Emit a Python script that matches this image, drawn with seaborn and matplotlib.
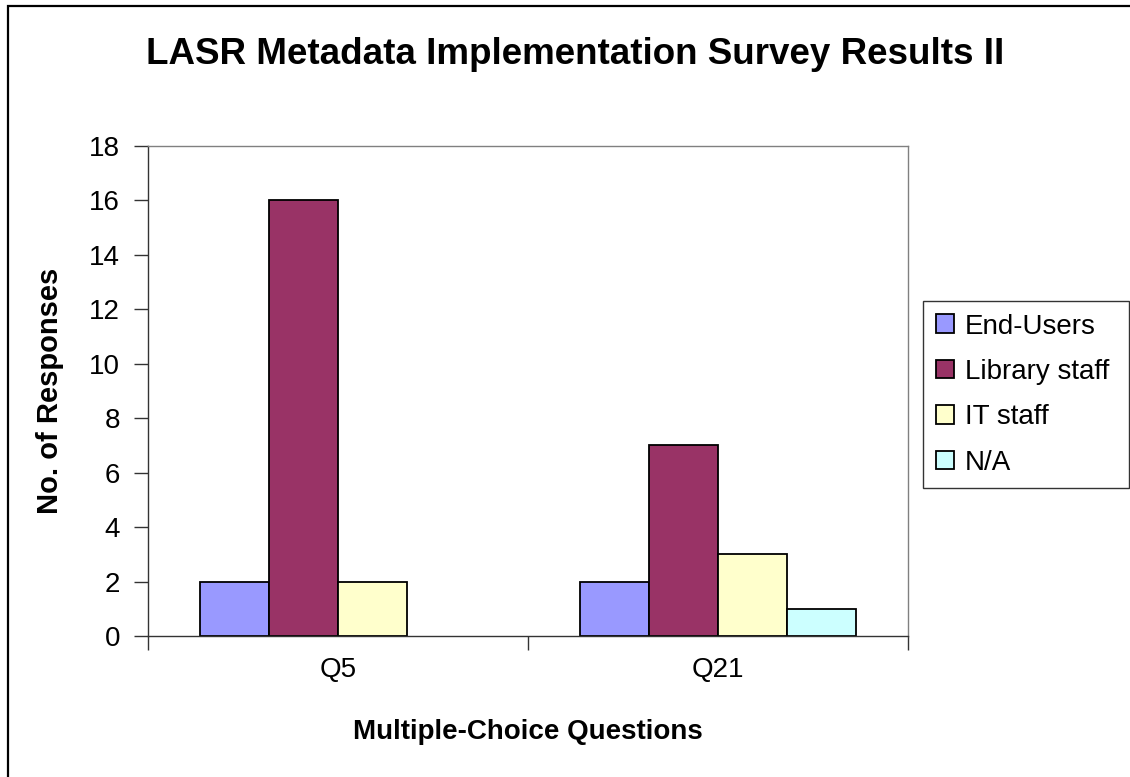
import pandas as pd
import matplotlib
matplotlib.use("Agg")
import matplotlib.pyplot as plt
from matplotlib.patches import Rectangle
import seaborn as sns

questions = ["Q5", "Q21"]
groups = ["End-Users", "Library staff", "IT staff", "N/A"]
end_users = [2, 2]
library_staff = [16, 7]
it_staff = [2, 3]
na = [0, 1]
colors = ["#9999FF", "#993366", "#FFFFCC", "#CCFFFF"]

df = pd.DataFrame({
    "Question": questions * 4,
    "Group": [g for g in groups for _ in questions],
    "Responses": end_users + library_staff + it_staff + na,
})

sns.set_style("white")
plt.rcParams["font.family"] = ["Liberation Sans", "DejaVu Sans"]
for key in ["text.color", "axes.labelcolor", "xtick.color", "ytick.color"]:
    plt.rcParams[key] = "black"

fig = plt.figure(figsize=(11.3, 7.77), dpi=100)
ax = fig.add_axes([148 / 1130, 1 - 636 / 777, 760 / 1130, 490 / 777])

sns.barplot(data=df, x="Question", y="Responses", hue="Group",
            order=questions, hue_order=groups, palette=colors,
            width=4 / 5.5, edgecolor="black", linewidth=1.3,
            saturation=1, ax=ax)

# Excel draws nothing for a zero-height bar
for cont in ax.containers:
    for p in cont:
        if p.get_height() == 0:
            p.set_visible(False)

ax.set_xlim(-0.5, 1.5)
ax.set_ylim(0, 18)
ax.set_yticks(range(0, 19, 2))
ax.tick_params(axis="y", labelsize=20, length=10, width=1, color="#333333",
               direction="out", left=True, pad=10)
ax.set_xticks([-0.5, 0.5, 1.5], minor=True)
ax.tick_params(axis="x", which="major", length=0, labelsize=20, pad=15)
ax.tick_params(axis="x", which="minor", length=10, width=1, color="#333333",
               direction="out", bottom=True)

for side in ["top", "right"]:
    ax.spines[side].set_color("#808080")
    ax.spines[side].set_linewidth(1)
for side in ["left", "bottom"]:
    ax.spines[side].set_color("#333333")
    ax.spines[side].set_linewidth(1)

ax.set_xlabel("Multiple-Choice Questions", fontsize=20, fontweight="bold")
ax.xaxis.set_label_coords(0.5, (636 - 732) / 490)
ax.xaxis.label.set_va("center")
ax.set_ylabel("No. of Responses", fontsize=21, fontweight="bold")
ax.yaxis.set_label_coords((50 - 148) / 760, 0.5)
ax.yaxis.label.set_va("center")

fig.text(575 / 1130, 1 - 54 / 777,
         "LASR Metadata Implementation Survey Results II",
         fontsize=26.5, fontweight="bold", ha="center", va="center")

leg = ax.legend(loc="upper left",
                bbox_to_anchor=(923 / 1130, 0, 206 / 1130, 1 - 301 / 777),
                bbox_transform=fig.transFigure, mode="expand", fontsize=20,
                frameon=True, fancybox=False, edgecolor="black",
                handlelength=0.65, handleheight=0.65, handletextpad=0.4,
                labelspacing=0.7, borderpad=0.45, borderaxespad=0)
leg.get_frame().set_linewidth(1)
for h in leg.legend_handles:
    h.set_edgecolor("black")
    h.set_linewidth(1.3)

fig.patches.append(Rectangle((8 / 1130, -0.05), 1.2, 0.05 + 771 / 777,
                             transform=fig.transFigure, fill=False,
                             edgecolor="black", linewidth=1.6))

fig.savefig("out.png", dpi=100)
